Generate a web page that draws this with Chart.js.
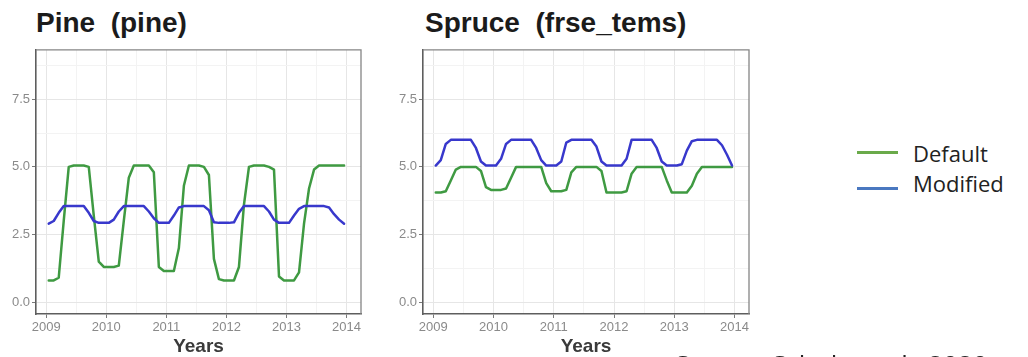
<!DOCTYPE html>
<html>
<head>
<meta charset="utf-8">
<script src="https://cdn.jsdelivr.net/npm/chart.js@4/dist/chart.umd.min.js"></script>
<style>
  html, body { margin: 0; padding: 0; background: #fff; }
  body { width: 1028px; height: 357px; overflow: hidden; position: relative; }
  canvas { position: absolute; }
  .title { position: absolute; font: bold 28px "Liberation Sans", Arial, sans-serif; line-height: 28px; color: #1b1b1b; white-space: pre; }
  .leg-line { position: absolute; height: 2.5px; width: 41px; left: 857px; }
  .leg-text { position: absolute; left: 913px; font: 22px "Open Sans", sans-serif; line-height: 22px; color: #222; white-space: pre; }
  .source { position: absolute; left: 675px; top: 351px; font: 26px "Open Sans", sans-serif; line-height: 26px; color: #222; white-space: pre; }
</style>
</head>
<body>
<div class="title" style="left:36px; top:9px;">Pine  (pine)</div>
<div class="title" style="left:425px; top:9px;">Spruce  (frse_tems)</div>
<canvas id="pine" width="373" height="317" style="left:0px; top:40px;"></canvas>
<canvas id="spruce" width="374" height="317" style="left:387px; top:40px;"></canvas>
<div class="leg-line" style="top:151px; background:#6aaa4a;"></div>
<div class="leg-text" style="top:142px;">Default</div>
<div class="leg-line" style="top:187px; background:#4a78c0;"></div>
<div class="leg-text" style="top:172px;">Modified</div>
<div class="source">Source: Schulz et al., 2020</div>
<script>
// Simulation years; one value per month, plotted at mid-month
const years = [2009, 2010, 2011, 2012, 2013];
const yearTicks = [2009, 2010, 2011, 2012, 2013, 2014];
const valueTicks = [0, 2.5, 5, 7.5];
const seriesNames = ['Default', 'Modified'];

// Pine (pine) monthly values, Jan 2009 – Dec 2013
const pineDefault = [
  0.8, 0.8, 0.9, 3.0, 5.0, 5.05, 5.05, 5.05, 5.0, 3.2, 1.5, 1.3,
  1.3, 1.3, 1.35, 3.0, 4.6, 5.05, 5.05, 5.05, 5.05, 4.8, 1.3, 1.15,
  1.15, 1.15, 2.0, 4.3, 5.05, 5.05, 5.05, 5.0, 4.7, 1.6, 0.85, 0.8,
  0.8, 0.8, 1.3, 3.6, 5.0, 5.05, 5.05, 5.05, 5.0, 4.9, 0.95, 0.8,
  0.8, 0.8, 1.1, 2.9, 4.2, 4.9, 5.05, 5.05, 5.05, 5.05, 5.05, 5.05
];
const pineModified = [
  2.9, 3.0, 3.3, 3.55, 3.55, 3.55, 3.55, 3.55, 3.3, 3.0, 2.93, 2.93,
  2.93, 3.05, 3.35, 3.55, 3.55, 3.55, 3.55, 3.55, 3.35, 3.1, 2.93, 2.93,
  2.93, 3.2, 3.5, 3.55, 3.55, 3.55, 3.55, 3.55, 3.4, 2.95, 2.93, 2.93,
  2.93, 2.95, 3.3, 3.55, 3.55, 3.55, 3.55, 3.55, 3.35, 3.05, 2.93, 2.93,
  2.93, 3.2, 3.45, 3.55, 3.55, 3.55, 3.55, 3.55, 3.5, 3.25, 3.05, 2.9
];

// Spruce (frse_tems) monthly values, Jan 2009 – Dec 2013
const spruceDefault = [
  4.05, 4.05, 4.1, 4.5, 4.9, 5.0, 5.0, 5.0, 5.0, 4.85, 4.25, 4.15,
  4.15, 4.15, 4.2, 4.6, 5.0, 5.0, 5.0, 5.0, 5.0, 5.0, 4.4, 4.1,
  4.1, 4.1, 4.15, 4.8, 5.0, 5.0, 5.0, 5.0, 5.0, 4.85, 4.05, 4.05,
  4.05, 4.05, 4.1, 4.75, 5.0, 5.0, 5.0, 5.0, 5.0, 5.0, 4.5, 4.05,
  4.05, 4.05, 4.05, 4.3, 4.75, 5.0, 5.0, 5.0, 5.0, 5.0, 5.0, 5.0
];
const spruceModified = [
  5.05, 5.25, 5.85, 6.0, 6.0, 6.0, 6.0, 6.0, 5.7, 5.2, 5.05, 5.05,
  5.05, 5.3, 5.85, 6.0, 6.0, 6.0, 6.0, 6.0, 5.7, 5.25, 5.05, 5.05,
  5.05, 5.2, 5.9, 6.0, 6.0, 6.0, 6.0, 6.0, 5.75, 5.2, 5.05, 5.05,
  5.05, 5.05, 5.3, 6.0, 6.0, 6.0, 6.0, 6.0, 5.7, 5.2, 5.05, 5.05,
  5.05, 5.1, 5.6, 5.95, 6.0, 6.0, 6.0, 6.0, 6.0, 5.8, 5.45, 5.05
];

const LINE_GREEN = '#3f9a42';
const LINE_BLUE = '#3838cc';

// Decimal-year position of each month (mid-month)
const monthPos = [];
years.forEach(y => { for (let m = 0; m < 12; m++) monthPos.push(y + (m + 0.5) / 12); });

const toPoints = vals => vals.map((v, i) => ({ x: monthPos[i], y: v }));

// Major ticks carry labels; minor ticks sit halfway between them (grid only)
function withMinor(major) {
  const out = [];
  major.forEach((v, i) => {
    out.push({ value: v, major: true });
    const step = i < major.length - 1 ? major[i + 1] - v : major[1] - major[0];
    out.push({ value: v + step / 2, major: false });
  });
  return out;
}
const xTickList = withMinor(yearTicks).filter(t => t.value <= 2014.24);
const yTickList = withMinor(valueTicks);

const isMajorTick = (ctx) => ctx.tick && ctx.tick.major;

// Outline of the plotting panel (top and right edges)
const panelFrame = {
  id: 'panelFrame',
  beforeDatasetsDraw(chart) {
    const a = chart.chartArea, c = chart.ctx;
    c.save();
    c.strokeStyle = '#858585';
    c.lineWidth = 1.3;
    c.beginPath();
    c.moveTo(a.left, a.top);
    c.lineTo(a.right, a.top);
    c.lineTo(a.right, a.bottom);
    c.stroke();
    c.restore();
  }
};

function makeChart(id, defVals, modVals) {
  return new Chart(document.getElementById(id), {
    type: 'line',
    data: {
      datasets: [
        { label: seriesNames[0], data: toPoints(defVals), borderColor: LINE_GREEN, order: 2 },
        { label: seriesNames[1], data: toPoints(modVals), borderColor: LINE_BLUE, order: 1 }
      ]
    },
    options: {
      responsive: false,
      animation: false,
      devicePixelRatio: 1,
      layout: { padding: { left: 0, right: 12, top: 7, bottom: 0 } },
      elements: {
        point: { radius: 0, hoverRadius: 0 },
        line: { borderWidth: 2.5, tension: 0, borderCapStyle: 'round', borderJoinStyle: 'round', fill: false }
      },
      plugins: { legend: { display: false }, tooltip: { enabled: false }, title: { display: false } },
      scales: {
        x: {
          type: 'linear',
          min: 2008.83,
          max: 2014.24,
          afterBuildTicks: s => { s.ticks = xTickList.map(t => ({ value: t.value, major: t.major })); },
          afterFit: s => { s.height = 43; },
          ticks: {
            autoSkip: false,
            maxRotation: 0,
            padding: 2,
            color: '#8a8a8a',
            font: { family: 'Liberation Sans', size: 13 },
            callback: v => Number.isInteger(v) ? String(v) : ''
          },
          grid: {
            color: ctx => isMajorTick(ctx) ? '#e6e6e6' : '#f3f3f3',
            tickColor: ctx => isMajorTick(ctx) ? '#7a7a7a' : 'rgba(0,0,0,0)',
            lineWidth: 1,
            tickLength: 4
          },
          border: { display: true, color: '#5e5e5e', width: 1.6 },
          title: {
            display: true,
            text: 'Years',
            color: '#3a3a3a',
            font: { family: 'Liberation Sans', size: 19, weight: 'bold' },
            padding: { top: 0, bottom: -1 }
          }
        },
        y: {
          type: 'linear',
          min: -0.44,
          max: 9.33,
          afterBuildTicks: s => { s.ticks = yTickList.map(t => ({ value: t.value, major: t.major })); },
          afterFit: s => { s.width = 36; },
          ticks: {
            autoSkip: false,
            padding: 2,
            color: '#8a8a8a',
            font: { family: 'Liberation Sans', size: 13 },
            callback: v => (Math.abs(v / 2.5 - Math.round(v / 2.5)) < 1e-9) ? v.toFixed(1) : ''
          },
          grid: {
            color: ctx => isMajorTick(ctx) ? '#e6e6e6' : '#f3f3f3',
            tickColor: ctx => isMajorTick(ctx) ? '#7a7a7a' : 'rgba(0,0,0,0)',
            lineWidth: 1,
            tickLength: 4
          },
          border: { display: true, color: '#5e5e5e', width: 1.6 }
        }
      }
    },
    plugins: [panelFrame]
  });
}

makeChart('pine', pineDefault, pineModified);
makeChart('spruce', spruceDefault, spruceModified);
</script>
</body>
</html>
